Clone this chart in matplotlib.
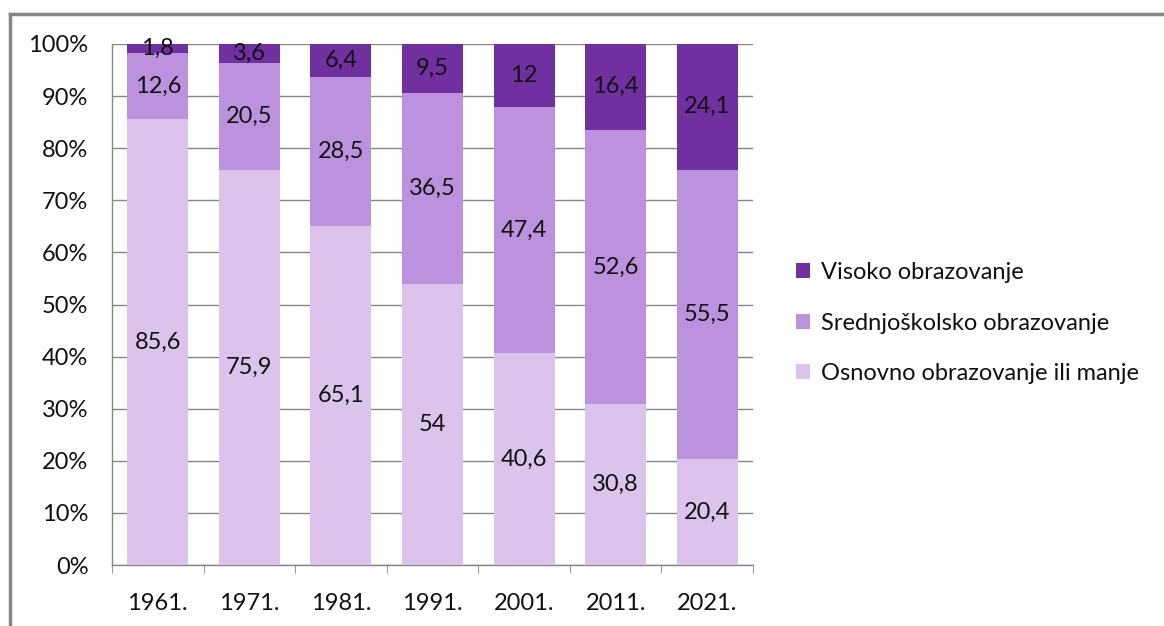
import matplotlib
matplotlib.use("Agg")
import matplotlib.pyplot as plt
from matplotlib.lines import Line2D
import numpy as np

years = ["1961.", "1971.", "1981.", "1991.", "2001.", "2011.", "2021."]
osnovno = [85.6, 75.9, 65.1, 54, 40.6, 30.8, 20.4]
srednje = [12.6, 20.5, 28.5, 36.5, 47.4, 52.6, 55.5]
visoko = [1.8, 3.6, 6.4, 9.5, 12, 16.4, 24.1]
series_names = ["Osnovno obrazovanje ili manje", "Srednjoškolsko obrazovanje", "Visoko obrazovanje"]
colors = ["#DBC3EC", "#BC92DE", "#7030A0"]

plt.rcParams['font.family'] = ['Lato', 'DejaVu Sans']
FS = 17
TXT = "#111111"

W, H = 1164, 626
fig = plt.figure(figsize=(W/100, H/100), dpi=100)
ax = fig.add_axes([112/W, 1-565/H, (753-112)/W, (565-44)/H])

x = np.arange(len(years))
series = [np.array(s, dtype=float) for s in (osnovno, srednje, visoko)]
totals = sum(series)
bottom = np.zeros(len(years))
bars = []
for v, c, name in zip(series, colors, series_names):
    h = v / totals * 100  # 100% stacked
    b = ax.bar(x, h, bottom=bottom, width=0.667, color=c, label=name, zorder=3)
    bars.append(b)
    for xi, vi, hi, bi in zip(x, v, h, bottom):
        lab = ("%g" % vi).replace(".", ",")
        ax.text(xi, bi + hi/2, lab, ha="center", va="center", fontsize=FS, color=TXT, zorder=4)
    bottom += h

ax.set_xlim(-0.5, len(years)-0.5)
ax.set_ylim(0, 100)
ax.set_yticks(np.arange(0, 101, 10))
ax.set_yticklabels([f"{t}%" for t in range(0, 101, 10)], fontsize=FS, color=TXT)
ax.set_xticks(x)
ax.set_xticklabels(years, fontsize=FS, color=TXT)
ax.tick_params(axis="x", length=0, pad=20)
ax.set_xticks(np.arange(-0.5, len(years), 1), minor=True)
ax.tick_params(axis="x", which="minor", length=6, color="#868686", direction="out")
ax.tick_params(axis="y", length=0, pad=17)
ax.grid(axis="y", color="#868686", linewidth=1, zorder=0)
for s in ["top", "right"]:
    ax.spines[s].set_visible(False)
for s in ["left", "bottom"]:
    ax.spines[s].set_color("#868686")
    ax.spines[s].set_linewidth(1)

handles = [bars[2], bars[1], bars[0]]
leg = fig.legend(handles, [series_names[2], series_names[1], series_names[0]],
                 loc="center left", bbox_to_anchor=(775/W, 1-323/H), frameon=False,
                 fontsize=FS, handlelength=0.6, handleheight=0.6, handletextpad=0.45,
                 labelspacing=1.25, labelcolor=TXT)

# outer frame
fig.add_artist(Line2D([10/W, 10/W], [0, 1-14/H], color="#868686", linewidth=2.5, transform=fig.transFigure))
fig.add_artist(Line2D([10/W, 1], [1-14/H, 1-14/H], color="#868686", linewidth=2.5, transform=fig.transFigure))

fig.savefig("out.png", dpi=100)
